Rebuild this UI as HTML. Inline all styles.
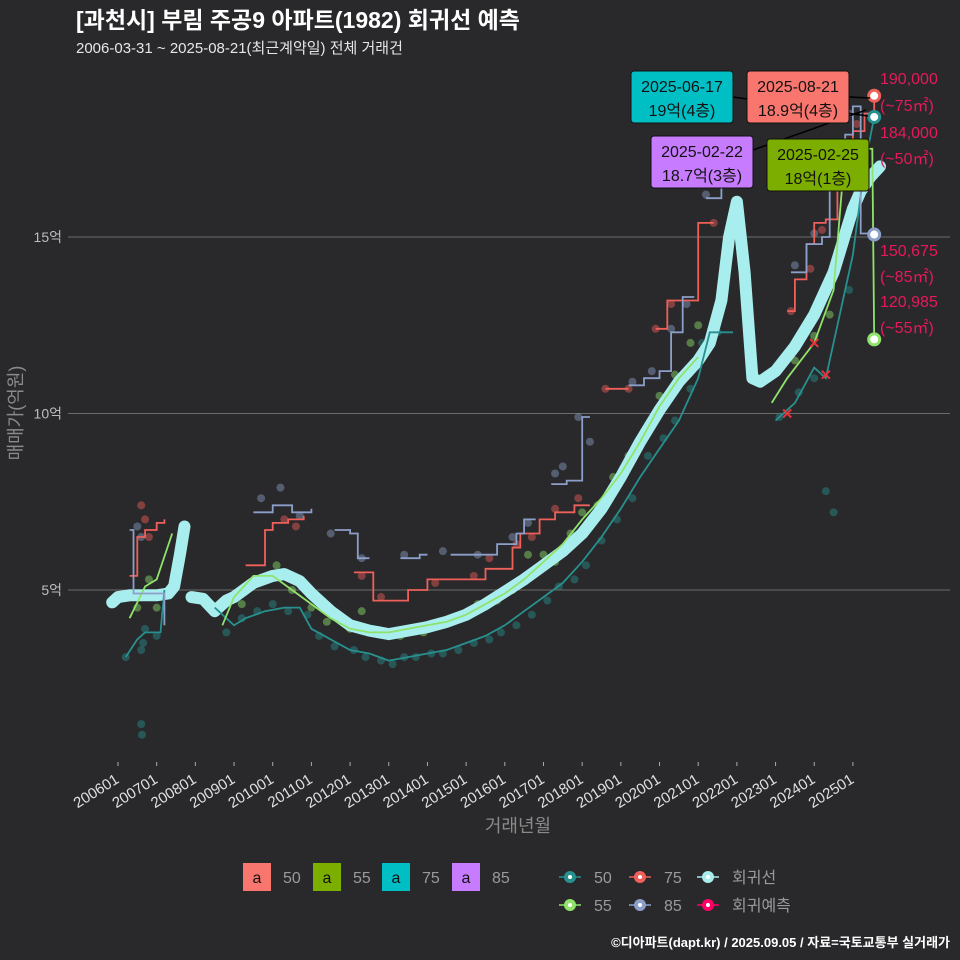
<!DOCTYPE html>
<html><head><meta charset="utf-8">
<style>
html,body{margin:0;padding:0;background:#29292b;}
svg{display:block;font-family:"Liberation Sans","Noto Sans CJK KR",sans-serif;}
</style></head>
<body>
<svg id="chart" width="960" height="960" viewBox="0 0 960 960">
<rect x="0" y="0" width="960" height="960" fill="#29292b"/>
<text x="76" y="28" fill="#ffffff" font-size="23" font-weight="bold">[과천시] 부림 주공9 아파트(1982) 회귀선 예측</text>
<text x="76" y="53" fill="#e6e6e6" font-size="15">2006-03-31 ~ 2025-08-21(최근계약일) 전체 거래건</text>
<g id="grid"></g>
<g id="scatter"></g>
<g id="lines"></g>
<g id="annot"></g>
<g id="axes"></g>
<text transform="translate(22,413) rotate(-90)" text-anchor="middle" fill="#8a8a8a" font-size="18">매매가(억원)</text>
<text x="518" y="832" text-anchor="middle" fill="#8a8a8a" font-size="18">거래년월</text>
<g id="legend"></g>
<text x="950" y="947" text-anchor="end" fill="#ffffff" font-size="13" font-weight="bold">©디아파트(dapt.kr) / 2025.09.05 / 자료=국토교통부 실거래가</text>
</svg>
<script>
// ---- data (t = decimal year, v = 억원) ----
const yTicks = [5, 10, 15];
const yTickLabels = ["5억", "10억", "15억"];
const xTickYears = [2006,2007,2008,2009,2010,2011,2012,2013,2014,2015,2016,2017,2018,2019,2020,2021,2022,2023,2024,2025];
const xTickLabels = ["200601","200701","200801","200901","201001","201101","201201","201301","201401","201501","201601","201701","201801","201901","202001","202101","202201","202301","202401","202501"];

const regSegA_t = [2005.85,2006.0,2006.3,2006.7,2007.0,2007.3,2007.45,2007.6,2007.72];
const regSegA_v = [4.65,4.8,4.85,4.85,4.85,4.9,5.1,6.0,6.8];
const regSegB_t = [2007.9,2008.2,2008.5,2008.8,2009.0,2009.5,2010.0,2010.3,2010.7,2011.0,2011.5,2012.0,2012.5,2013.0,2013.5,2014.0,2014.5,2015.0,2015.5,2016.0,2016.5,2017.0,2017.5,2018.0,2018.5,2019.0,2019.5,2020.0,2020.5,2021.0,2021.3,2021.6,2021.8,2022.0,2022.2,2022.4,2022.6,2023.0,2023.5,2024.0,2024.5,2025.0,2025.2,2025.45,2025.7];
const regSegB_v = [4.8,4.75,4.4,4.7,4.8,5.2,5.4,5.45,5.25,4.9,4.4,4.0,3.85,3.75,3.85,3.95,4.1,4.3,4.6,4.95,5.3,5.7,6.1,6.6,7.3,8.2,9.2,10.1,10.9,11.5,12.0,13.2,15.0,16.0,14.0,11.0,10.9,11.2,11.9,12.8,14.0,15.8,16.3,16.7,17.0];

const s50_t = [2006.2,2006.5,2006.7,2007.1,2007.2, null,2008.5,2009.0,2009.3,2009.8,2010.3,2010.7,2011.0,2011.5,2012.0,2012.5,2013.0,2013.5,2014.0,2014.5,2015.0,2015.5,2016.0,2016.5,2017.0,2017.5,2018.0,2018.5,2019.0,2019.5,2020.0,2020.5,2021.0,2021.3,2021.9, null,2023.0,2023.5,2024.0,2024.3,2024.7,2025.0,2025.3,2025.55];
const s50_v = [3.1,3.6,3.8,3.8,5.0, null,4.5,4.0,4.2,4.4,4.5,4.5,3.9,3.6,3.3,3.2,3.0,3.1,3.2,3.3,3.5,3.7,4.0,4.4,4.8,5.2,5.8,6.5,7.3,8.2,9.0,9.8,11.0,12.3,12.3, null,9.8,10.3,11.3,11.0,13.0,14.5,17.0,18.4];
const s55_t = [2006.3,2006.7,2007.0,2007.4, null,2008.7,2009.0,2009.5,2010.0,2010.5,2011.0,2011.5,2012.0,2012.5,2013.0,2013.5,2014.0,2014.5,2015.0,2015.5,2016.0,2016.5,2017.0,2017.5,2018.0,2018.5,2019.0,2019.5,2020.0,2020.5,2021.0, null,2022.9,2023.3,2024.0,2024.5,2024.8,2025.2,2025.5,2025.55];
const s55_v = [4.2,5.1,5.3,6.6, null,4.0,4.8,5.4,5.4,5.0,4.6,4.2,3.9,3.8,3.8,3.9,4.0,4.1,4.3,4.6,4.9,5.3,5.8,6.3,7.0,7.6,8.3,9.2,10.2,11.0,11.6, null,10.3,11.0,12.0,13.5,17.5,17.5,17.5,12.1];
const s75_t = [2006.3,2006.5,2006.7,2007.0,2007.2, null,2009.3,2009.8,2010.0,2010.4,2010.8, null,2012.1,2012.6,2013.0,2013.5,2014.0,2015.0,2015.5,2015.8,2016.2,2016.4,2016.9,2017.3,2017.8,2018.2, null,2018.6,2019.2, null,2019.9,2020.2,2020.7,2021.0,2021.4, null,2023.3,2023.5,2023.8,2024.0,2024.3,2024.6,2025.0,2025.3,2025.55];
const s75_v = [5.4,6.5,6.7,6.9,7.0, null,5.7,6.7,6.9,7.0,7.1, null,5.5,4.7,4.7,5.0,5.3,5.3,5.6,5.6,6.2,6.6,7.0,7.2,7.4,7.4, null,10.7,10.7, null,12.4,13.2,13.2,15.4,15.4, null,12.9,13.8,14.8,15.4,15.5,17.0,18.0,18.5,19.0];
const s85_t = [2006.3,2006.4,2007.1,2007.2, null,2009.5,2010.0,2010.5,2011.0, null,2011.6,2012.0,2012.2,2012.5, null,2013.3,2013.8,2014.0, null,2014.6,2015.5,2015.8,2016.3,2016.5,2016.8, null,2017.2,2017.6,2018.0,2018.2, null,2019.2,2019.6,2020.0,2020.3,2020.6,2020.9, null,2021.2,2021.6, null,2023.4,2023.8,2024.2,2024.4,2024.8,2025.0,2025.2,2025.55];
const s85_v = [6.7,4.9,4.9,4.0, null,7.2,7.4,7.2,7.3, null,6.7,6.6,5.9,5.9, null,5.9,6.0,6.0, null,6.0,6.0,6.3,6.6,7.0,7.0, null,8.0,8.1,9.9,9.9, null,10.8,11.0,11.2,12.3,13.3,13.3, null,16.1,16.5, null,14.0,14.8,15.0,16.5,17.9,18.7,15.1,15.07];

const dots50_t = [2006.2,2006.6,2006.65,2006.7,2007.0,2008.8,2009.2,2009.6,2010.0,2010.4,2010.9,2011.2,2011.6,2012.1,2012.4,2012.8,2013.1,2013.4,2013.7,2014.1,2014.4,2014.8,2015.2,2015.6,2015.9,2016.3,2016.7,2017.1,2017.4,2017.8,2018.1,2018.5,2018.9,2019.3,2019.7,2020.1,2020.4,2020.8,2021.1,2021.5,2023.1,2023.6,2024.0,2024.3,2024.5,2024.9,2025.2,2006.6,2006.62];
const dots50_v = [3.1,3.3,3.5,3.9,3.7,3.8,4.2,4.4,4.6,4.4,4.3,3.7,3.4,3.3,3.1,3.0,2.9,3.1,3.1,3.2,3.2,3.3,3.5,3.6,3.8,4.0,4.3,4.7,5.1,5.3,5.7,6.4,7.0,7.6,8.8,9.3,9.8,10.7,12.0,12.3,9.9,10.6,11.0,7.8,7.2,13.5,16.5,1.2,0.9];
const dots55_t = [2006.5,2006.8,2007.0,2009.2,2009.7,2010.1,2010.5,2011.0,2011.4,2012.0,2012.3,2012.9,2013.3,2013.9,2014.3,2014.9,2015.3,2015.8,2016.2,2016.6,2017.0,2017.3,2017.7,2018.0,2018.4,2018.8,2019.2,2019.6,2020.0,2020.4,2020.8,2021.0,2023.5,2024.0,2024.4,2024.7];
const dots55_v = [4.5,5.3,4.5,4.6,5.3,5.7,5.0,4.5,4.1,3.9,4.4,3.8,3.7,3.8,4.1,4.2,4.6,4.7,5.0,6.0,6.0,5.8,6.6,7.2,7.4,8.2,8.8,9.5,10.5,11.1,12.0,12.5,11.5,12.2,12.8,16.8];
const dots75_t = [2006.6,2006.7,2006.8,2010.3,2010.6,2012.3,2012.8,2014.2,2015.2,2015.6,2016.3,2016.7,2017.3,2017.9,2018.6,2019.2,2019.9,2020.3,2021.4,2023.4,2023.9,2024.2,2024.7,2025.1];
const dots75_v = [7.4,7.0,6.5,7.0,6.8,5.4,4.8,5.2,5.4,5.9,6.3,6.5,7.3,7.6,10.7,10.7,12.4,13.1,15.4,12.9,14.1,15.2,17.0,18.2];
const dots85_t = [2006.5,2006.6,2009.7,2010.2,2010.7,2011.5,2012.3,2013.4,2014.4,2015.3,2016.2,2016.6,2017.3,2017.5,2017.9,2018.2,2019.3,2019.8,2020.3,2020.7,2021.2,2023.5,2024.0,2024.5,2024.9];
const dots85_v = [6.8,6.5,7.6,7.9,7.1,6.6,5.9,6.0,6.1,6.0,6.5,6.9,8.3,8.5,9.9,9.2,10.9,11.2,12.4,13.1,16.2,14.2,15.1,16.6,18.5];

const crossT = [2023.3,2024.0,2024.3];
const crossV = [10.0,12.0,11.1];

const endT = 2025.55;
const endVals = [19.0,18.4,15.07,12.1];
const endColors = ["#f0605a","#27918f","#8c9fc8","#8fe36b"];

// ---- scales ----
function X(t){ return 118 + (t-2006)*38.68; }
function Y(v){ return 766.5 - v*35.3; }
const NS="http://www.w3.org/2000/svg";
function mk(tag, attrs, parent){ const e=document.createElementNS(NS,tag); for(const k in attrs) e.setAttribute(k,attrs[k]); parent.appendChild(e); return e; }

const grid=document.getElementById('grid');
yTicks.forEach((v,i)=>{
  const l=mk('line',{x1:68,x2:950,y1:Y(v),y2:Y(v),stroke:'#6a6a6a','stroke-width':1},grid);
  
  
  const t=mk('text',{x:62,y:Y(v)+5,'text-anchor':'end',fill:'#bdbdbd','font-size':14},grid);
  t.textContent=yTickLabels[i];
  
  
});
const axes=document.getElementById('axes');
xTickYears.forEach((yr,i)=>{
  const x=X(yr);
  const tk=mk('line',{x1:x,x2:x,y1:762,y2:766,stroke:'#aaaaaa'},axes);
  
  
  const t=mk('text',{transform:`translate(${x+2},${782}) rotate(-32)`,'text-anchor':'end',fill:'#e0e0e0','font-size':15},axes);
  t.textContent=xTickLabels[i];
  
  
});

function pathFrom(ts,vs){
  let d='',pen=false;
  for(let i=0;i<ts.length;i++){
    if(ts[i]===null){pen=false;continue;}
    d+=(pen?'L':'M')+X(ts[i]).toFixed(1)+','+Y(vs[i]).toFixed(1);
    pen=true;
  }
  return d;
}
function stepPath(ts,vs){
  let d='',pen=false,pv=0;
  for(let i=0;i<ts.length;i++){
    if(ts[i]===null){pen=false;continue;}
    const x=X(ts[i]).toFixed(1);
    if(pen){ d+='L'+x+','+Y(pv).toFixed(1); }
    d+=(pen?'L':'M')+x+','+Y(vs[i]).toFixed(1);
    pv=vs[i]; pen=true;
  }
  return d;
}

const sc=document.getElementById('scatter');
function dots(ts,vs,col,name){
  ts.forEach((t,i)=>{
    const c=mk('circle',{cx:X(t),cy:Y(vs[i]),r:4,fill:col,opacity:0.45},sc);
    
    
  });
}
dots(dots50_t,dots50_v,'#27918f','point-50');
dots(dots55_t,dots55_v,'#8fe36b','point-55');
dots(dots75_t,dots75_v,'#f0605a','point-75');
dots(dots85_t,dots85_v,'#8c9fc8','point-85');

const ln=document.getElementById('lines');
[[regSegA_t,regSegA_v],[regSegB_t,regSegB_v]].forEach(s=>{
  const p=mk('path',{d:pathFrom(s[0],s[1]),fill:'none',stroke:'#a8eeee','stroke-width':12,'stroke-linecap':'round','stroke-linejoin':'round'},ln);
  
  
});
function series(ts,vs,col,name,step){
  const p=mk('path',{d:step?stepPath(ts,vs):pathFrom(ts,vs),fill:'none',stroke:col,'stroke-width':1.8},ln);
  
  
}
series(s50_t,s50_v,'#27918f','line-50',false);
series(s55_t,s55_v,'#8fe36b','line-55',false);
series(s75_t,s75_v,'#f0605a','line-75',true);
series(s85_t,s85_v,'#8c9fc8','line-85',true);

crossT.forEach((t,i)=>{
  const x=X(t),y=Y(crossV[i]);
  const p=mk('path',{d:`M${x-4},${y-4}L${x+4},${y+4}M${x-4},${y+4}L${x+4},${y-4}`,stroke:'#e8333a','stroke-width':2},ln);
  
  
});
endVals.forEach((v,i)=>{
  const c=mk('circle',{cx:X(endT),cy:Y(v),r:5.5,fill:'#ffffff',stroke:endColors[i],'stroke-width':3},ln);
  
  
});

// annotations
const an=document.getElementById('annot');
const connectors=[[733,97,868,116],[849,97,870,98],[753,150,866,110],[869,160,860,190]];
connectors.forEach(c=>{
  const l=mk('line',{x1:c[0],y1:c[1],x2:c[2],y2:c[3],stroke:'#000','stroke-width':1.5},an);
  
  
});
const boxes=[[631,71,'#00bfc4','2025-06-17','19억(4층)','annotation-box-75'],[747,71,'#f8766d','2025-08-21','18.9억(4층)','annotation-box-50'],[651,136,'#c77cff','2025-02-22','18.7억(3층)','annotation-box-85'],[767,139,'#7cae00','2025-02-25','18억(1층)','annotation-box-55']];
boxes.forEach(b=>{
  const g=mk('g',{},an);
  
  
  mk('rect',{x:b[0],y:b[1],width:102,height:52,rx:3,fill:b[2],stroke:'#111','stroke-width':1},g);
  const t1=mk('text',{x:b[0]+51,y:b[1]+21,'text-anchor':'middle','font-size':16,fill:'#111'},g); t1.textContent=b[3];
  const t2=mk('text',{x:b[0]+51,y:b[1]+45,'text-anchor':'middle','font-size':16,fill:'#111'},g); t2.textContent=b[4];
});
const pink='#e8185a';
const rl=[['190,000',84],['(~75㎡)',111],['184,000',138],['(~50㎡)',164],['150,675',256],['(~85㎡)',282],['120,985',307],['(~55㎡)',333]];
rl.forEach(r=>{
  const t=mk('text',{x:880,y:r[1],fill:pink,'font-size':16},an);
  t.textContent=r[0];
  
  
});

// legend
const lg=document.getElementById('legend');
const la=[['#f8766d','50',243],['#7cae00','55',313],['#00bfc4','75',382],['#c77cff','85',452]];
la.forEach(a=>{
  const g=mk('g',{},lg);
  
  
  mk('rect',{x:a[2],y:863,width:28,height:28,fill:a[0]},g);
  const t=mk('text',{x:a[2]+14,y:883,'text-anchor':'middle','font-size':16,fill:'#111'},g); t.textContent='a';
  const t2=mk('text',{x:a[2]+40,y:883,'font-size':16,fill:'#9a9a9a'},g); t2.textContent=a[1];
});
const lm=[['#27918f','50',570,877],['#f0605a','75',640,877],['#a8eeee','회귀선',708,877],['#8fe36b','55',570,905],['#8c9fc8','85',640,905],['#ff0066','회귀예측',708,905]];
lm.forEach(a=>{
  const g=mk('g',{},lg);
  
  
  mk('line',{x1:a[2]-11,x2:a[2]+11,y1:a[3],y2:a[3],stroke:a[0],'stroke-width':1.5},g);
  mk('circle',{cx:a[2],cy:a[3],r:6,fill:a[0]},g);
  mk('circle',{cx:a[2],cy:a[3],r:2,fill:'#ffffff'},g);
  const t=mk('text',{x:a[2]+24,y:a[3]+6,'font-size':16,fill:'#9a9a9a'},g); t.textContent=a[1];
});
</script>
</body></html>
